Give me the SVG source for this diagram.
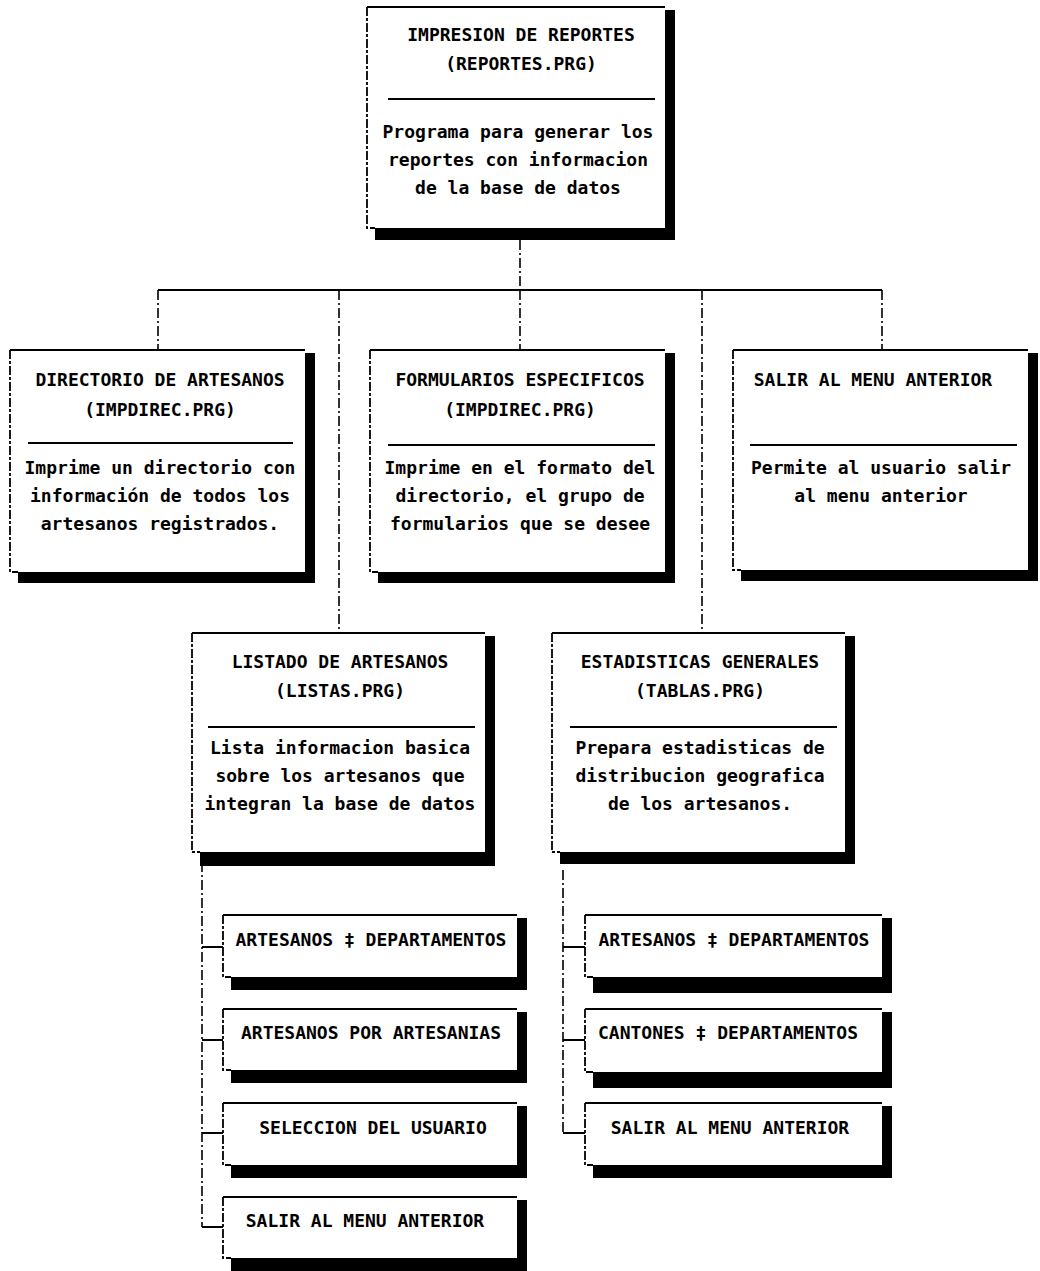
<svg xmlns="http://www.w3.org/2000/svg" width="1040" height="1271" viewBox="0 0 1040 1271">
<style>
.sh{fill:#000}
.bg{fill:#fff}
.top{stroke:#000;stroke-width:2;fill:none}
.lft{stroke:#000;stroke-width:1.8;fill:none;stroke-dasharray:9 2 3 2}
.div{stroke:#000;stroke-width:2}
.t{font-family:"DejaVu Sans Mono","Liberation Mono",monospace;font-weight:bold;font-size:18px;fill:#000;text-anchor:middle}
.d{font-family:"DejaVu Sans Mono","Liberation Mono",monospace;font-size:18px;fill:#000;text-anchor:middle;font-weight:bold}
.cn{stroke:#000;stroke-width:1.6;fill:none;stroke-dasharray:10 3 2 3}
.cs{stroke:#000;stroke-width:2;fill:none}
</style>
<defs>
<g id="none"/>
</defs>
<g id="connectors">
<line class="cn" x1="520" y1="240" x2="520" y2="290"/>
<line class="cs" x1="158" y1="290" x2="882" y2="290"/>
<line class="cn" x1="158" y1="290" x2="158" y2="350"/>
<line class="cn" x1="520" y1="290" x2="520" y2="350"/>
<line class="cn" x1="882" y1="290" x2="882" y2="350"/>
<line class="cn" x1="339" y1="290" x2="339" y2="633"/>
<line class="cn" x1="702" y1="290" x2="702" y2="633"/>
<line class="cn" x1="202" y1="862" x2="202" y2="1227"/>
<line class="cs" x1="202" y1="947" x2="223" y2="947"/>
<line class="cs" x1="202" y1="1040" x2="223" y2="1040"/>
<line class="cs" x1="202" y1="1133" x2="223" y2="1133"/>
<line class="cs" x1="202" y1="1227" x2="223" y2="1227"/>
<line class="cn" x1="563" y1="870" x2="563" y2="1133"/>
<line class="cs" x1="563" y1="947" x2="585" y2="947"/>
<line class="cs" x1="563" y1="1040" x2="585" y2="1040"/>
<line class="cs" x1="563" y1="1133" x2="585" y2="1133"/>
</g>
<g id="impresion">
<rect class="sh" x="375" y="10" width="300" height="230"/>
<rect class="bg" x="367" y="7" width="298" height="221"/>
<line class="top" x1="367" y1="7" x2="665" y2="7"/>
<path class="lft" d="M367,7 V228 H375"/>
<line class="div" x1="388" y1="99" x2="655" y2="99"/>
<text class="t" x="521" y="41">IMPRESION DE REPORTES</text>
<text class="t" x="521" y="70">(REPORTES.PRG)</text>
<text class="d" x="518" y="138" font-size="18.5">Programa para generar los</text>
<text class="d" x="518" y="166" font-size="18.5">reportes con informacion</text>
<text class="d" x="518" y="194" font-size="18.5">de la base de datos</text>
</g>
<g id="directorio">
<rect class="sh" x="18" y="353" width="297" height="230"/>
<rect class="bg" x="10" y="350" width="295" height="222"/>
<line class="top" x1="10" y1="350" x2="305" y2="350"/>
<path class="lft" d="M10,350 V572 H18"/>
<line class="div" x1="28" y1="443" x2="293" y2="443"/>
<text class="t" x="160" y="386">DIRECTORIO DE ARTESANOS</text>
<text class="t" x="160" y="416">(IMPDIREC.PRG)</text>
<text class="d" x="160" y="474">Imprime un directorio con</text>
<text class="d" x="160" y="502">información de todos los</text>
<text class="d" x="160" y="530">artesanos registrados.</text>
</g>
<g id="formularios">
<rect class="sh" x="378" y="353" width="297" height="230"/>
<rect class="bg" x="370" y="350" width="295" height="222"/>
<line class="top" x1="370" y1="350" x2="665" y2="350"/>
<path class="lft" d="M370,350 V572 H378"/>
<line class="div" x1="388" y1="445" x2="655" y2="445"/>
<text class="t" x="520" y="386">FORMULARIOS ESPECIFICOS</text>
<text class="t" x="520" y="416">(IMPDIREC.PRG)</text>
<text class="d" x="520" y="474">Imprime en el formato del</text>
<text class="d" x="520" y="502">directorio, el grupo de</text>
<text class="d" x="520" y="530">formularios que se desee</text>
</g>
<g id="salir-principal">
<rect class="sh" x="741" y="353" width="297" height="228"/>
<rect class="bg" x="733" y="350" width="295" height="220"/>
<line class="top" x1="733" y1="350" x2="1028" y2="350"/>
<path class="lft" d="M733,350 V570 H741"/>
<line class="div" x1="750" y1="445" x2="1017" y2="445"/>
<text class="t" x="873" y="386">SALIR AL MENU ANTERIOR</text>
<text class="d" x="881" y="474">Permite al usuario salir</text>
<text class="d" x="881" y="502">al menu anterior</text>
</g>
<g id="listado">
<rect class="sh" x="200" y="636" width="295" height="230"/>
<rect class="bg" x="192" y="633" width="293" height="219"/>
<line class="top" x1="192" y1="633" x2="485" y2="633"/>
<path class="lft" d="M192,633 V852 H200"/>
<line class="div" x1="208" y1="727" x2="475" y2="727"/>
<text class="t" x="340" y="668">LISTADO DE ARTESANOS</text>
<text class="t" x="340" y="697">(LISTAS.PRG)</text>
<text class="d" x="340" y="754">Lista informacion basica</text>
<text class="d" x="340" y="782">sobre los artesanos que</text>
<text class="d" x="340" y="810">integran la base de datos</text>
</g>
<g id="estadisticas">
<rect class="sh" x="560" y="636" width="295" height="228"/>
<rect class="bg" x="552" y="633" width="293" height="219"/>
<line class="top" x1="552" y1="633" x2="845" y2="633"/>
<path class="lft" d="M552,633 V852 H560"/>
<line class="div" x1="570" y1="727" x2="837" y2="727"/>
<text class="t" x="700" y="668">ESTADISTICAS GENERALES</text>
<text class="t" x="700" y="697">(TABLAS.PRG)</text>
<text class="d" x="700" y="754">Prepara estadisticas de</text>
<text class="d" x="700" y="782">distribucion geografica</text>
<text class="d" x="700" y="810">de los artesanos.</text>
</g>
<g id="l-art-dep">
<rect class="sh" x="231" y="918" width="296" height="72"/>
<rect class="bg" x="223" y="915" width="294" height="62"/>
<line class="top" x1="223" y1="915" x2="517" y2="915"/>
<path class="lft" d="M223,915 V977 H231"/>
<text class="t" x="371" y="946">ARTESANOS ‡ DEPARTAMENTOS</text>
</g>
<g id="l-art-art">
<rect class="sh" x="231" y="1012" width="296" height="71"/>
<rect class="bg" x="223" y="1009" width="294" height="61"/>
<line class="top" x1="223" y1="1009" x2="517" y2="1009"/>
<path class="lft" d="M223,1009 V1070 H231"/>
<text class="t" x="371" y="1039">ARTESANOS POR ARTESANIAS</text>
</g>
<g id="l-seleccion">
<rect class="sh" x="231" y="1106" width="296" height="72"/>
<rect class="bg" x="223" y="1103" width="294" height="62"/>
<line class="top" x1="223" y1="1103" x2="517" y2="1103"/>
<path class="lft" d="M223,1103 V1165 H231"/>
<text class="t" x="373" y="1134">SELECCION DEL USUARIO</text>
</g>
<g id="l-salir">
<rect class="sh" x="231" y="1200" width="296" height="71"/>
<rect class="bg" x="223" y="1197" width="294" height="61"/>
<line class="top" x1="223" y1="1197" x2="517" y2="1197"/>
<path class="lft" d="M223,1197 V1258 H231"/>
<text class="t" x="365" y="1227">SALIR AL MENU ANTERIOR</text>
</g>
<g id="r-art-dep">
<rect class="sh" x="593" y="918" width="299" height="75"/>
<rect class="bg" x="585" y="915" width="297" height="62"/>
<line class="top" x1="585" y1="915" x2="882" y2="915"/>
<path class="lft" d="M585,915 V977 H593"/>
<text class="t" x="734" y="946">ARTESANOS ‡ DEPARTAMENTOS</text>
</g>
<g id="r-cantones">
<rect class="sh" x="593" y="1012" width="299" height="76"/>
<rect class="bg" x="585" y="1009" width="297" height="63"/>
<line class="top" x1="585" y1="1009" x2="882" y2="1009"/>
<path class="lft" d="M585,1009 V1072 H593"/>
<text class="t" x="728" y="1039">CANTONES ‡ DEPARTAMENTOS</text>
</g>
<g id="r-salir">
<rect class="sh" x="593" y="1106" width="299" height="72"/>
<rect class="bg" x="585" y="1103" width="297" height="62"/>
<line class="top" x1="585" y1="1103" x2="882" y2="1103"/>
<path class="lft" d="M585,1103 V1165 H593"/>
<text class="t" x="730" y="1134">SALIR AL MENU ANTERIOR</text>
</g>
</svg>
